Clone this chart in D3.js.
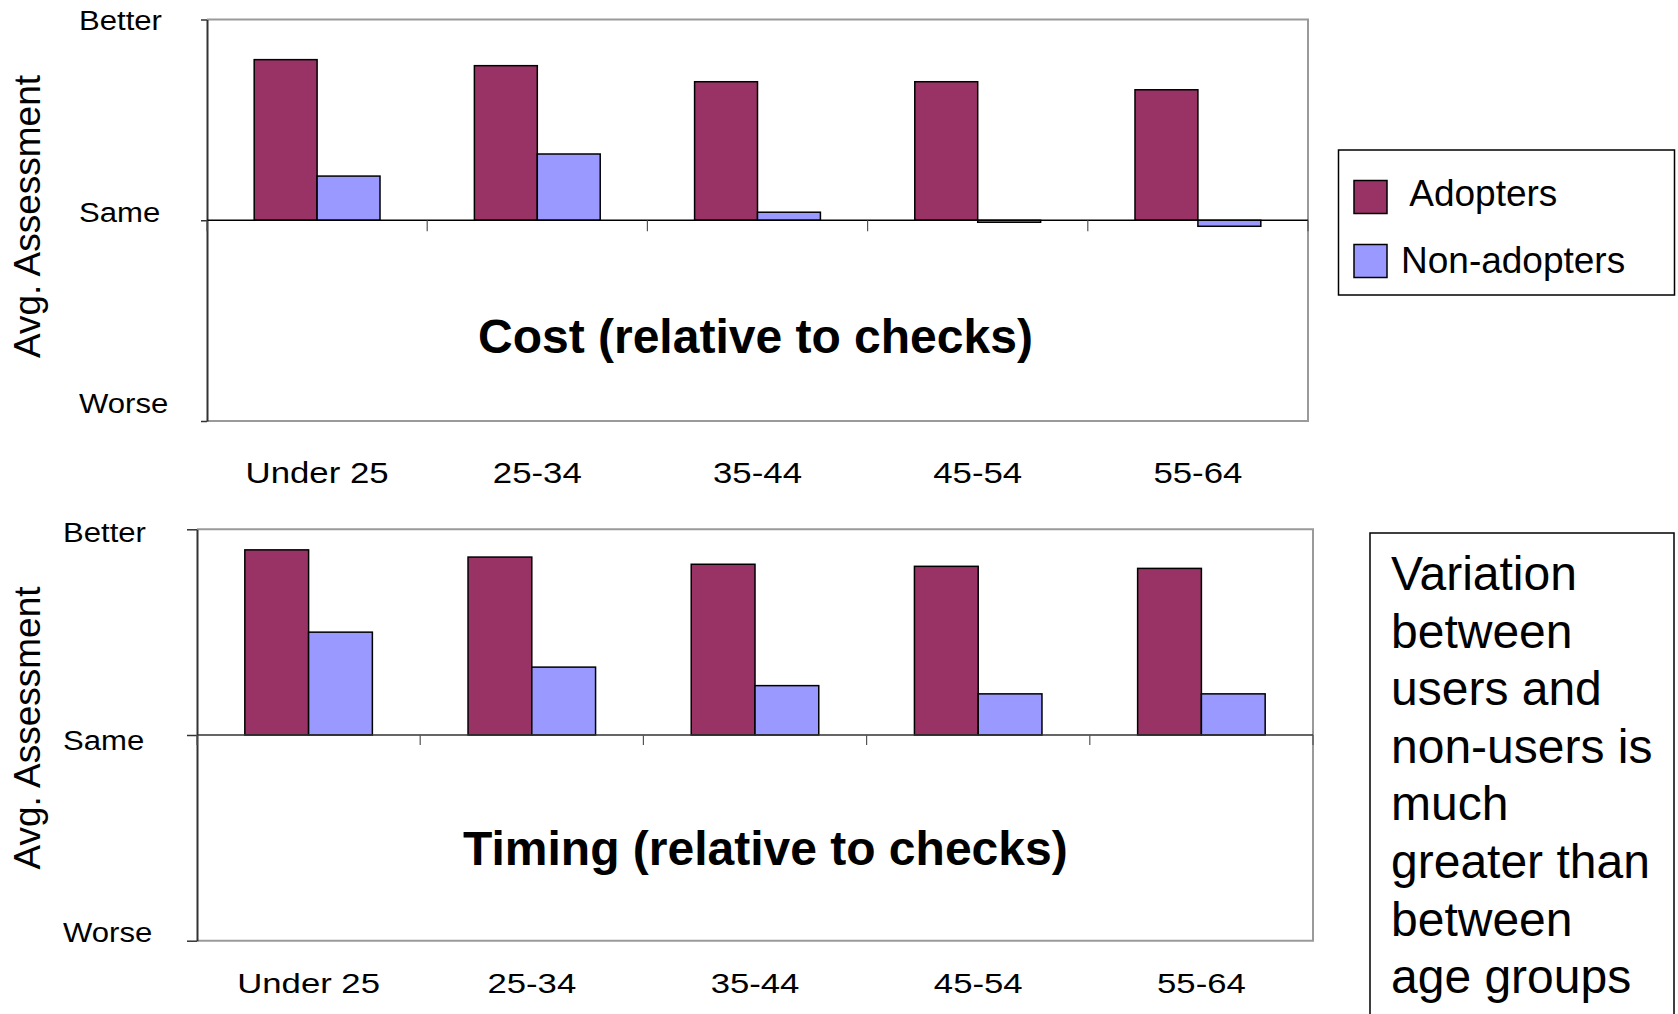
<!DOCTYPE html>
<html>
<head>
<meta charset="utf-8">
<script src="https://cdn.jsdelivr.net/npm/d3@7"></script>
<style>
  html, body { margin: 0; padding: 0; background: #ffffff; }
  svg { display: block; }
  text { font-family: "Liberation Sans", Arial, Helvetica, sans-serif; fill: #000; }
</style>
</head>
<body>
<svg id="chart" width="1678" height="1014"></svg>
<script>
// ---------- data ----------
const categories = ["Under 25", "25-34", "35-44", "45-54", "55-64"];
const seriesNames = ["Adopters", "Non-adopters"];
const seriesColors = ["#993366", "#9999FF"];
const costAdopters = [0.80, 0.77, 0.69, 0.69, 0.65];
const costNonAdopters = [0.22, 0.33, 0.04, -0.01, -0.03];
const timingAdopters = [0.90, 0.865, 0.83, 0.82, 0.81];
const timingNonAdopters = [0.50, 0.33, 0.24, 0.20, 0.20];
const yTickValues = [1, 0, -1];
const yTickLabels = ["Better", "Same", "Worse"];
const chartTitles = ["Cost (relative to checks)", "Timing (relative to checks)"];
const yAxisTitle = "Avg. Assessment";
const legendLabels = [" Adopters", "Non-adopters"];
const noteLines = ["Variation", "between", "users and", "non-users is", "much", "greater than", "between", "age groups"];

// ---------- layout ----------
const panels = [
  { title: chartTitles[0], series: [costAdopters, costNonAdopters],
    left: 207, right: 1308, top: 19.5, bottom: 421,
    leftTick: 6, catTick: 11, zeroColor: "#000",
    labelSize: 30, labelBase: 483, labelStretch: 1.16,
    yLabelX: 79, yLabelOffsets: [0.5, -8.5, -17.5],
    yTitleY: 216.5, titleX: 478, titleBase: 353 },
  { title: chartTitles[1], series: [timingAdopters, timingNonAdopters],
    left: 197, right: 1313, top: 529.3, bottom: 940.7,
    leftTick: 10, catTick: 10, zeroColor: "#333",
    labelSize: 28, labelBase: 993, labelStretch: 1.24,
    yLabelX: 63, yLabelOffsets: [2.4, 5.5, -8.7],
    yTitleY: 728, titleX: 463, titleBase: 865 }
];

const svg = d3.select("#chart");

function stretchText(sel, sx) {
  sel.each(function () {
    const t = d3.select(this);
    const x = +t.attr("x"), y = +t.attr("y");
    t.attr("x", 0).attr("y", 0)
     .attr("transform", `translate(${x},${y}) scale(${sx},1)`);
  });
}

panels.forEach(p => {
  const g = svg.append("g");
  const y = d3.scaleLinear().domain([-1, 1]).range([p.bottom, p.top]);
  const x0 = d3.scaleBand().domain(categories).range([p.left, p.right])
    .paddingInner(0.4286).paddingOuter(0.2143);
  const x1 = d3.scaleBand().domain(seriesNames).range([0, x0.bandwidth()]).padding(0);
  const xb = d3.scaleLinear().domain([0, categories.length]).range([p.left, p.right]);

  // plot border (top, right, bottom)
  g.append("path")
    .attr("d", `M${p.left},${p.top}H${p.right}V${p.bottom}H${p.left}`)
    .attr("fill", "none").attr("stroke", "#9a9a9a").attr("stroke-width", 2);

  // left axis
  const ax = g.append("g").attr("transform", `translate(${p.left},0)`)
    .call(d3.axisLeft(y).tickValues(yTickValues).tickSize(p.leftTick).tickFormat("").tickSizeOuter(0));
  ax.select(".domain").attr("stroke", "#333").attr("stroke-width", 2);
  ax.selectAll(".tick line").attr("stroke", "#333").attr("stroke-width", 1.5);

  // bars
  const rows = categories.map((c, i) => ({ c, vals: p.series.map((s, k) => ({ k, v: s[i] })) }));
  g.selectAll("g.cat").data(rows).join("g").attr("class", "cat")
    .attr("transform", d => `translate(${x0(d.c)},0)`)
    .selectAll("rect").data(d => d.vals).join("rect")
    .attr("x", d => x1(seriesNames[d.k]))
    .attr("width", x1.bandwidth())
    .attr("y", d => y(Math.max(0, d.v)))
    .attr("height", d => Math.max(1.5, Math.abs(y(d.v) - y(0))))
    .attr("fill", d => seriesColors[d.k])
    .attr("stroke", "#000").attr("stroke-width", 1.5);

  // zero line and category ticks
  g.append("line").attr("x1", p.left).attr("x2", p.right)
    .attr("y1", y(0)).attr("y2", y(0))
    .attr("stroke", p.zeroColor).attr("stroke-width", 1.5);
  g.selectAll("line.ctick").data(d3.range(categories.length + 1)).join("line")
    .attr("class", "ctick")
    .attr("x1", d => xb(d)).attr("x2", d => xb(d))
    .attr("y1", y(0)).attr("y2", y(0) + p.catTick)
    .attr("stroke", "#555").attr("stroke-width", 1.2);

  // y tick labels
  const yl = g.selectAll("text.ylab").data(yTickValues).join("text")
    .attr("class", "ylab")
    .attr("x", p.yLabelX)
    .attr("y", (d, i) => y(d) + p.yLabelOffsets[i])
    .attr("dominant-baseline", "central")
    .attr("font-size", 28)
    .text((d, i) => yTickLabels[i]);
  stretchText(yl, 1.11);

  // category labels
  const cl = g.selectAll("text.clab").data(categories).join("text")
    .attr("class", "clab")
    .attr("x", d => x0(d) + x0.bandwidth() / 2)
    .attr("y", p.labelBase)
    .attr("text-anchor", "middle")
    .attr("font-size", p.labelSize)
    .text(d => d);
  stretchText(cl, p.labelStretch);

  // y axis title
  g.append("text")
    .attr("transform", `translate(40,${p.yTitleY}) rotate(-90)`)
    .attr("text-anchor", "middle")
    .attr("font-size", 37)
    .text(yAxisTitle);

  // chart title
  g.append("text")
    .attr("x", p.titleX).attr("y", p.titleBase)
    .attr("font-size", 48).attr("font-weight", "bold")
    .text(p.title);
});

// ---------- legend ----------
const lg = svg.append("g");
lg.append("rect").attr("x", 1338.5).attr("y", 150).attr("width", 336).attr("height", 145)
  .attr("fill", "#fff").attr("stroke", "#000").attr("stroke-width", 1.5);
const legY = d3.scalePoint().domain(seriesNames).range([197, 261]);
lg.selectAll("rect.sw").data(seriesNames).join("rect").attr("class", "sw")
  .attr("x", 1354).attr("y", d => legY(d) - 16.5).attr("width", 33).attr("height", 33)
  .attr("fill", (d, i) => seriesColors[i]).attr("stroke", "#000").attr("stroke-width", 1.5);
lg.selectAll("text.lt").data(seriesNames).join("text").attr("class", "lt")
  .attr("x", 1401).attr("y", (d, i) => legY(d) + 9 + i * 3)
  .attr("font-size", 37)
  .style("white-space", "pre")
  .text((d, i) => legendLabels[i]);

// ---------- note box ----------
const nb = svg.append("g");
nb.append("rect").attr("x", 1370).attr("y", 533).attr("width", 304).attr("height", 500)
  .attr("fill", "#fff").attr("stroke", "#000").attr("stroke-width", 1.5);
nb.selectAll("text").data(noteLines).join("text")
  .attr("x", 1391).attr("y", (d, i) => 590 + i * 57.6)
  .attr("font-size", 48)
  .text(d => d);
</script>
</body>
</html>
